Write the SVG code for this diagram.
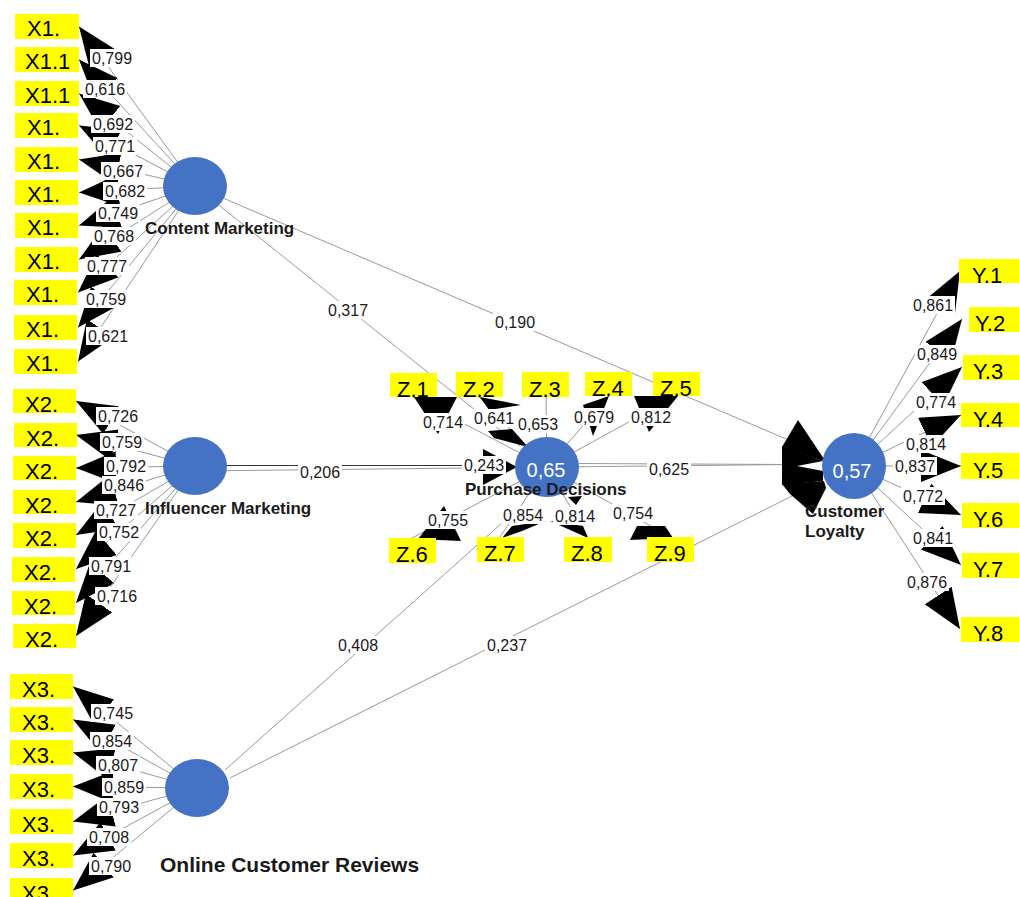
<svg xmlns="http://www.w3.org/2000/svg" width="1019" height="897" viewBox="0 0 1019 897">
<defs>
<style>
.ind{stroke:#9a9a9a;stroke-width:1;fill:none;marker-end:url(#ah)}
.ln{stroke:#9a9a9a;stroke-width:1;fill:none}
.ah{fill:#000}
.bg{fill:#fff}
.val{font-family:"Liberation Sans",Arial,sans-serif;font-size:16px;fill:#1a1a1a}
.box{fill:#ffff00}
.bt{font-family:"Liberation Sans",Arial,sans-serif;font-size:22px;fill:#000}
.lv{fill:#4472c4}
.lt{font-family:"Liberation Sans",Arial,sans-serif;font-size:17px;font-weight:bold;fill:#1a1a1a}
.r2{font-family:"Liberation Sans",Arial,sans-serif;font-size:20px;fill:#fff;text-anchor:middle}
</style>
<marker id="ah" markerUnits="userSpaceOnUse" markerWidth="42" markerHeight="34" viewBox="0 0 42 34" refX="40" refY="16" orient="auto">
<path d="M0,0 L40,16 L0,32 Z" fill="#000"/>
</marker>
</defs>
<rect width="1019" height="897" fill="#fff"/>

<g id="connectors">
<!-- Content Marketing indicators -->
<line class="ind" x1="195" y1="186" x2="79" y2="26.5"/>
<line class="ind" x1="195" y1="186" x2="79" y2="59.5"/>
<line class="ind" x1="195" y1="186" x2="79" y2="93.5"/>
<line class="ind" x1="195" y1="186" x2="79" y2="125.5"/>
<line class="ind" x1="195" y1="186" x2="79" y2="159.5"/>
<line class="ind" x1="195" y1="186" x2="79" y2="192.5"/>
<line class="ind" x1="195" y1="186" x2="79" y2="225.5"/>
<line class="ind" x1="195" y1="186" x2="79" y2="259.5"/>
<line class="ind" x1="195" y1="186" x2="78" y2="292.5"/>
<line class="ind" x1="195" y1="186" x2="78" y2="327.5"/>
<line class="ind" x1="195" y1="186" x2="78" y2="361.5"/>
<!-- Influencer Marketing indicators -->
<line class="ind" x1="195" y1="466" x2="76" y2="401"/>
<line class="ind" x1="195" y1="466" x2="76" y2="435"/>
<line class="ind" x1="195" y1="466" x2="76" y2="468"/>
<line class="ind" x1="195" y1="466" x2="76" y2="502"/>
<line class="ind" x1="195" y1="466" x2="76" y2="535"/>
<line class="ind" x1="195" y1="466" x2="76" y2="569"/>
<line class="ind" x1="195" y1="466" x2="76" y2="603"/>
<line class="ind" x1="195" y1="466" x2="76" y2="636"/>
<!-- Online Customer Reviews indicators -->
<line class="ind" x1="197" y1="788" x2="73" y2="686.5"/>
<line class="ind" x1="197" y1="788" x2="73" y2="719.5"/>
<line class="ind" x1="197" y1="788" x2="73" y2="752.5"/>
<line class="ind" x1="197" y1="788" x2="73" y2="786.5"/>
<line class="ind" x1="197" y1="788" x2="73" y2="821.5"/>
<line class="ind" x1="197" y1="788" x2="73" y2="855.5"/>
<line class="ind" x1="197" y1="788" x2="73" y2="890.5"/>
<!-- Customer Loyalty indicators -->
<line class="ind" x1="854" y1="466" x2="960" y2="271"/>
<line class="ind" x1="854" y1="466" x2="962" y2="319"/>
<line class="ind" x1="854" y1="466" x2="962" y2="367"/>
<line class="ind" x1="854" y1="466" x2="961" y2="415"/>
<line class="ind" x1="854" y1="466" x2="961" y2="466"/>
<line class="ind" x1="854" y1="466" x2="961" y2="515"/>
<line class="ind" x1="854" y1="466" x2="961" y2="565"/>
<line class="ind" x1="854" y1="466" x2="960" y2="629"/>
<!-- Purchase Decisions indicators -->
<line class="ln" x1="547" y1="467" x2="413" y2="397"/>
<line class="ln" x1="547" y1="467" x2="479" y2="397"/>
<line class="ln" x1="547" y1="467" x2="546" y2="397"/>
<line class="ln" x1="547" y1="467" x2="608" y2="397"/>
<line class="ln" x1="547" y1="467" x2="676" y2="396"/>
<line class="ln" x1="547" y1="467" x2="412" y2="538"/>
<line class="ln" x1="547" y1="467" x2="500" y2="537"/>
<line class="ln" x1="547" y1="467" x2="588" y2="537"/>
<line class="ln" x1="547" y1="467" x2="670" y2="537"/>
<!-- structural paths -->
<line class="ln" x1="195" y1="186" x2="520" y2="446"/>
<line class="ln" x1="195" y1="186" x2="800" y2="445"/>
<line class="ln" x1="195" y1="465.5" x2="500" y2="465.5" style="stroke:#333"/>
<line class="ln" x1="195" y1="471" x2="790" y2="464.5"/>
<line class="ln" x1="579" y1="463.5" x2="790" y2="464.5"/>
<line class="ln" x1="225" y1="770" x2="512" y2="514"/>
<line class="ln" x1="230" y1="778" x2="800" y2="492"/>

<!-- arrowheads on Purchase Decisions indicators -->
<polygon class="ah" points="414,397 457,397 438,434"/>
<polygon class="ah" points="480,397 521,405 489,410"/>
<polygon class="ah" points="583,405 609,396 593,436"/>
<polygon class="ah" points="634,396 678,396 649,432"/>
<polygon class="ah" points="418,539 461,541 444,506"/>
<polygon class="ah" points="502,538 512,526 546,521 522,531"/>
<polygon class="ah" points="550,521 588,538 583,526"/>
<polygon class="ah" points="568,497 582,496 576,505"/>
<polygon class="ah" points="630,540 637,526 665,526 673,538"/>
<!-- structural arrowheads -->
<polygon class="ah" points="488,431 512,429 528,447 494,438"/>
<polygon class="ah" points="483,449 517,467 483,485"/>
<polygon class="ah" points="798,420 826,462 782,447"/>
<polygon class="ah" points="782,446 823,461 797,466 823,471 823,481 782,485"/>
<polygon class="ah" points="782,484 824,481 826,488 813,514 790,494"/>

<!-- outer loadings: Content Marketing -->
<rect class="bg" x="90" y="49" width="44" height="18"/><text class="val" x="92" y="64">0,799</text>
<rect class="bg" x="83" y="80" width="44" height="18"/><text class="val" x="85" y="95">0,616</text>
<rect class="bg" x="91" y="115" width="44" height="18"/><text class="val" x="93" y="130">0,692</text>
<rect class="bg" x="93" y="137" width="44" height="18"/><text class="val" x="95" y="152">0,771</text>
<rect class="bg" x="101" y="162" width="44" height="18"/><text class="val" x="103" y="177">0,667</text>
<rect class="bg" x="103" y="182" width="44" height="18"/><text class="val" x="105" y="197">0,682</text>
<rect class="bg" x="96" y="204" width="44" height="18"/><text class="val" x="98" y="219">0,749</text>
<rect class="bg" x="92" y="227" width="44" height="18"/><text class="val" x="94" y="242">0,768</text>
<rect class="bg" x="85" y="257" width="44" height="18"/><text class="val" x="87" y="272">0,777</text>
<rect class="bg" x="84" y="290" width="44" height="18"/><text class="val" x="86" y="305">0,759</text>
<rect class="bg" x="86" y="327" width="44" height="18"/><text class="val" x="88" y="342">0,621</text>
<!-- outer loadings: Influencer Marketing -->
<rect class="bg" x="96" y="407" width="44" height="18"/><text class="val" x="98" y="422">0,726</text>
<rect class="bg" x="100" y="433" width="44" height="18"/><text class="val" x="102" y="448">0,759</text>
<rect class="bg" x="104" y="457" width="44" height="18"/><text class="val" x="106" y="472">0,792</text>
<rect class="bg" x="102" y="476" width="44" height="18"/><text class="val" x="104" y="491">0,846</text>
<rect class="bg" x="94" y="501" width="44" height="18"/><text class="val" x="96" y="516">0,727</text>
<rect class="bg" x="97" y="523" width="44" height="18"/><text class="val" x="99" y="538">0,752</text>
<rect class="bg" x="89" y="557" width="44" height="18"/><text class="val" x="91" y="572">0,791</text>
<rect class="bg" x="95" y="587" width="44" height="18"/><text class="val" x="97" y="602">0,716</text>
<!-- outer loadings: Online Customer Reviews -->
<rect class="bg" x="91" y="704" width="44" height="18"/><text class="val" x="93" y="719">0,745</text>
<rect class="bg" x="90" y="732" width="44" height="18"/><text class="val" x="92" y="747">0,854</text>
<rect class="bg" x="96" y="756" width="44" height="18"/><text class="val" x="98" y="771">0,807</text>
<rect class="bg" x="102" y="778" width="44" height="18"/><text class="val" x="104" y="793">0,859</text>
<rect class="bg" x="97" y="798" width="44" height="18"/><text class="val" x="99" y="813">0,793</text>
<rect class="bg" x="87" y="828" width="44" height="18"/><text class="val" x="89" y="843">0,708</text>
<rect class="bg" x="89" y="857" width="44" height="18"/><text class="val" x="91" y="872">0,790</text>
<!-- outer loadings: Purchase Decisions -->
<rect class="bg" x="421" y="413" width="44" height="18"/><text class="val" x="423" y="428">0,714</text>
<rect class="bg" x="472" y="409" width="44" height="18"/><text class="val" x="474" y="424">0,641</text>
<rect class="bg" x="516" y="415" width="44" height="18"/><text class="val" x="518" y="430">0,653</text>
<rect class="bg" x="572" y="408" width="44" height="18"/><text class="val" x="574" y="423">0,679</text>
<rect class="bg" x="629" y="408" width="44" height="18"/><text class="val" x="631" y="423">0,812</text>
<rect class="bg" x="426" y="511" width="44" height="18"/><text class="val" x="428" y="526">0,755</text>
<rect class="bg" x="501" y="506" width="44" height="18"/><text class="val" x="503" y="521">0,854</text>
<rect class="bg" x="553" y="507" width="44" height="18"/><text class="val" x="555" y="522">0,814</text>
<rect class="bg" x="611" y="504" width="44" height="18"/><text class="val" x="613" y="519">0,754</text>
<!-- outer loadings: Customer Loyalty -->
<rect class="bg" x="911" y="296" width="44" height="18"/><text class="val" x="913" y="311">0,861</text>
<rect class="bg" x="915" y="345" width="44" height="18"/><text class="val" x="917" y="360">0,849</text>
<rect class="bg" x="914" y="393" width="44" height="18"/><text class="val" x="916" y="408">0,774</text>
<rect class="bg" x="904" y="435" width="44" height="18"/><text class="val" x="906" y="450">0,814</text>
<rect class="bg" x="893" y="457" width="44" height="18"/><text class="val" x="895" y="472">0,837</text>
<rect class="bg" x="901" y="487" width="44" height="18"/><text class="val" x="903" y="502">0,772</text>
<rect class="bg" x="911" y="529" width="44" height="18"/><text class="val" x="913" y="544">0,841</text>
<rect class="bg" x="905" y="573" width="44" height="18"/><text class="val" x="907" y="588">0,876</text>
<!-- path coefficients -->
<rect class="bg" x="326" y="301" width="44" height="18"/><text class="val" x="328" y="316">0,317</text>
<rect class="bg" x="493" y="313" width="44" height="18"/><text class="val" x="495" y="328">0,190</text>
<rect class="bg" x="298" y="463" width="44" height="18"/><text class="val" x="300" y="478">0,206</text>
<rect class="bg" x="462" y="456" width="44" height="18"/><text class="val" x="464" y="471">0,243</text>
<rect class="bg" x="647" y="460" width="44" height="18"/><text class="val" x="649" y="475">0,625</text>
<rect class="bg" x="336" y="636" width="44" height="18"/><text class="val" x="338" y="651">0,408</text>
<rect class="bg" x="485" y="636" width="44" height="18"/><text class="val" x="487" y="651">0,237</text>
</g>

<!-- indicator boxes: Content Marketing -->
<g id="X1_01"><rect class="box" x="15" y="14" width="64" height="25"/><text class="bt" x="27" y="36">X1.</text></g>
<g id="X1_02"><rect class="box" x="15" y="47" width="64" height="25"/><text class="bt" x="25" y="69">X1.1</text></g>
<g id="X1_03"><rect class="box" x="15" y="81" width="64" height="25"/><text class="bt" x="25" y="103">X1.1</text></g>
<g id="X1_04"><rect class="box" x="15" y="113" width="63" height="25"/><text class="bt" x="27" y="135">X1.</text></g>
<g id="X1_05"><rect class="box" x="15" y="147" width="63" height="25"/><text class="bt" x="27" y="169">X1.</text></g>
<g id="X1_06"><rect class="box" x="15" y="180" width="63" height="25"/><text class="bt" x="27" y="202">X1.</text></g>
<g id="X1_07"><rect class="box" x="15" y="213" width="63" height="25"/><text class="bt" x="27" y="235">X1.</text></g>
<g id="X1_08"><rect class="box" x="15" y="247" width="63" height="25"/><text class="bt" x="27" y="269">X1.</text></g>
<g id="X1_09"><rect class="box" x="14" y="280" width="63" height="25"/><text class="bt" x="26" y="302">X1.</text></g>
<g id="X1_10"><rect class="box" x="14" y="315" width="63" height="25"/><text class="bt" x="26" y="337">X1.</text></g>
<g id="X1_11"><rect class="box" x="14" y="349" width="63" height="25"/><text class="bt" x="26" y="371">X1.</text></g>
<!-- indicator boxes: Influencer Marketing -->
<g id="X2_1"><rect class="box" x="13" y="389" width="63" height="24"/><text class="bt" x="25" y="412">X2.</text></g>
<g id="X2_2"><rect class="box" x="14" y="423" width="63" height="24"/><text class="bt" x="26" y="446">X2.</text></g>
<g id="X2_3"><rect class="box" x="13" y="456" width="63" height="24"/><text class="bt" x="25" y="479">X2.</text></g>
<g id="X2_4"><rect class="box" x="13" y="490" width="63" height="24"/><text class="bt" x="25" y="513">X2.</text></g>
<g id="X2_5"><rect class="box" x="13" y="523" width="63" height="25"/><text class="bt" x="25" y="546">X2.</text></g>
<g id="X2_6"><rect class="box" x="12" y="557" width="63" height="25"/><text class="bt" x="24" y="580">X2.</text></g>
<g id="X2_7"><rect class="box" x="12" y="591" width="63" height="24"/><text class="bt" x="24" y="614">X2.</text></g>
<g id="X2_8"><rect class="box" x="13" y="624" width="63" height="24"/><text class="bt" x="25" y="647">X2.</text></g>
<!-- indicator boxes: Online Customer Reviews -->
<g id="X3_1"><rect class="box" x="10" y="674" width="63" height="25"/><text class="bt" x="22" y="697">X3.</text></g>
<g id="X3_2"><rect class="box" x="10" y="707" width="63" height="25"/><text class="bt" x="22" y="730">X3.</text></g>
<g id="X3_3"><rect class="box" x="10" y="740" width="63" height="25"/><text class="bt" x="22" y="763">X3.</text></g>
<g id="X3_4"><rect class="box" x="10" y="774" width="63" height="25"/><text class="bt" x="22" y="797">X3.</text></g>
<g id="X3_5"><rect class="box" x="10" y="809" width="63" height="25"/><text class="bt" x="22" y="832">X3.</text></g>
<g id="X3_6"><rect class="box" x="10" y="843" width="63" height="25"/><text class="bt" x="22" y="866">X3.</text></g>
<g id="X3_7"><rect class="box" x="10" y="878" width="63" height="25"/><text class="bt" x="22" y="901">X3.</text></g>
<!-- indicator boxes: Purchase Decisions -->
<g id="Z1"><rect class="box" x="390" y="373" width="47" height="24"/><text class="bt" x="397" y="397">Z.1</text></g>
<g id="Z2"><rect class="box" x="456" y="372" width="47" height="25"/><text class="bt" x="463" y="397">Z.2</text></g>
<g id="Z3"><rect class="box" x="522" y="372" width="47" height="25"/><text class="bt" x="529" y="397">Z.3</text></g>
<g id="Z4"><rect class="box" x="585" y="372" width="47" height="24"/><text class="bt" x="592" y="396">Z.4</text></g>
<g id="Z5"><rect class="box" x="653" y="372" width="47" height="24"/><text class="bt" x="660" y="396">Z.5</text></g>
<g id="Z6"><rect class="box" x="389" y="538" width="47" height="25"/><text class="bt" x="396" y="562">Z.6</text></g>
<g id="Z7"><rect class="box" x="477" y="537" width="47" height="25"/><text class="bt" x="484" y="561">Z.7</text></g>
<g id="Z8"><rect class="box" x="564" y="537" width="48" height="25"/><text class="bt" x="571" y="561">Z.8</text></g>
<g id="Z9"><rect class="box" x="647" y="537" width="47" height="25"/><text class="bt" x="654" y="561">Z.9</text></g>
<!-- indicator boxes: Customer Loyalty -->
<g id="Y1"><rect class="box" x="959" y="259" width="60" height="24"/><text class="bt" x="972" y="283">Y.1</text></g>
<g id="Y2"><rect class="box" x="969" y="307" width="50" height="25"/><text class="bt" x="975" y="331">Y.2</text></g>
<g id="Y3"><rect class="box" x="963" y="355" width="56" height="25"/><text class="bt" x="973" y="379">Y.3</text></g>
<g id="Y4"><rect class="box" x="961" y="403" width="58" height="24"/><text class="bt" x="973" y="427">Y.4</text></g>
<g id="Y5"><rect class="box" x="961" y="453" width="58" height="26"/><text class="bt" x="973" y="478">Y.5</text></g>
<g id="Y6"><rect class="box" x="962" y="503" width="57" height="25"/><text class="bt" x="973" y="527">Y.6</text></g>
<g id="Y7"><rect class="box" x="962" y="553" width="57" height="25"/><text class="bt" x="973" y="577">Y.7</text></g>
<g id="Y8"><rect class="box" x="961" y="617" width="58" height="25"/><text class="bt" x="973" y="641">Y.8</text></g>

<!-- latent variables -->
<g id="content_marketing"><ellipse class="lv" cx="195" cy="186" rx="32" ry="29"/><text class="lt" x="145" y="234">Content Marketing</text></g>
<g id="influencer_marketing"><ellipse class="lv" cx="195" cy="466" rx="32" ry="29"/><text class="lt" x="145" y="514">Influencer Marketing</text></g>
<g id="online_customer_reviews"><ellipse class="lv" cx="197" cy="788" rx="32" ry="29"/><text class="lt" x="160" y="872" style="font-size:21px">Online Customer Reviews</text></g>
<g id="purchase_decisions"><ellipse class="lv" cx="547" cy="467" rx="32" ry="30"/><text class="r2" x="546" y="477">0,65</text><text class="lt" x="465" y="495">Purchase Decisions</text></g>
<g id="customer_loyalty"><ellipse class="lv" cx="854" cy="466" rx="32" ry="33"/><text class="r2" x="852" y="478">0,57</text><text class="lt" x="805" y="517">Customer</text><text class="lt" x="805" y="537">Loyalty</text></g>
</svg>
